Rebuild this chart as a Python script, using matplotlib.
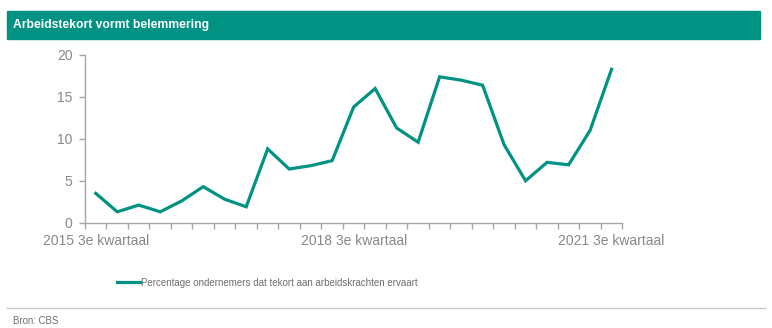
import matplotlib
matplotlib.use("Agg")
import matplotlib.pyplot as plt
from matplotlib.patches import Rectangle
from matplotlib.lines import Line2D

# kwartalen 2015 Q3 t/m 2021 Q3
kwartalen = [f"{j} {k}e kwartaal" for j in range(2015, 2022) for k in range(1, 5)][2:27]
tekort = [3.5, 1.3, 2.1, 1.3, 2.6, 4.3, 2.8, 1.9, 8.8, 6.4, 6.8, 7.4, 13.8,
          16.0, 11.3, 9.6, 17.4, 17.0, 16.4, 9.3, 5.0, 7.2, 6.9, 11.0, 18.3]
label_idx = [0, 12, 24]

teal = "#009282"
grijs = "#85888c"

plt.rcParams["font.family"] = ["Liberation Sans", "DejaVu Sans"]

W, H = 772, 328
fig = plt.figure(figsize=(W / 100, H / 100), dpi=100)

# titelbalk
fig.patches.append(Rectangle((7 / W, 1 - 38.5 / H), 753 / W, 27.5 / H,
                             transform=fig.transFigure, color=teal, zorder=0))
fig.text(13 / W, 1 - 25 / H, "Arbeidstekort vormt belemmering", color="white",
         fontsize=8.7, fontweight="bold", va="center", ha="left")

ax = fig.add_axes([85 / W, 1 - 222.7 / H, 537.3 / W, 167.7 / H])
x = list(range(len(tekort)))
ax.plot(x, tekort, color=teal, lw=2.3, solid_joinstyle="miter")

ax.set_xlim(-0.5, len(tekort) - 0.5)
ax.set_ylim(0, 20)
ax.set_yticks([0, 5, 10, 15, 20])
ax.set_xticks([i - 0.5 for i in range(len(tekort) + 1)])
ax.set_xticklabels([])
ax.set_xticks(label_idx, minor=True)
ax.set_xticklabels([kwartalen[i] for i in label_idx], minor=True)

for s in ["top", "right"]:
    ax.spines[s].set_visible(False)
for s in ["left", "bottom"]:
    ax.spines[s].set_color("#a6a6a6")
    ax.spines[s].set_linewidth(1.0)
ax.tick_params(axis="both", which="major", color="#a6a6a6", length=4, width=1.0,
               labelcolor=grijs, labelsize=10)
ax.tick_params(axis="x", which="minor", length=0, pad=8, labelcolor=grijs, labelsize=10)
ax.tick_params(axis="y", pad=5)

# legenda
fig.legend(handles=[Line2D([], [], color=teal, lw=2.3)],
           labels=["Percentage ondernemers dat tekort aan arbeidskrachten ervaart"],
           loc="center", bbox_to_anchor=(267.5 / W, 1 - 282.7 / H), frameon=False,
           handlelength=2.4, handletextpad=0.1,
           prop={"size": 7.0}, labelcolor="#6e6e6e")

# bronvermelding
fig.add_artist(Line2D([7 / W, 765 / W], [1 - 307.7 / H] * 2, transform=fig.transFigure,
                      color="#c8c8c8", lw=1))
fig.text(13 / W, 1 - 321 / H, "Bron: CBS", color="#6e6e6e", fontsize=6.9,
         va="center", ha="left")

fig.savefig("out.png", dpi=100)
